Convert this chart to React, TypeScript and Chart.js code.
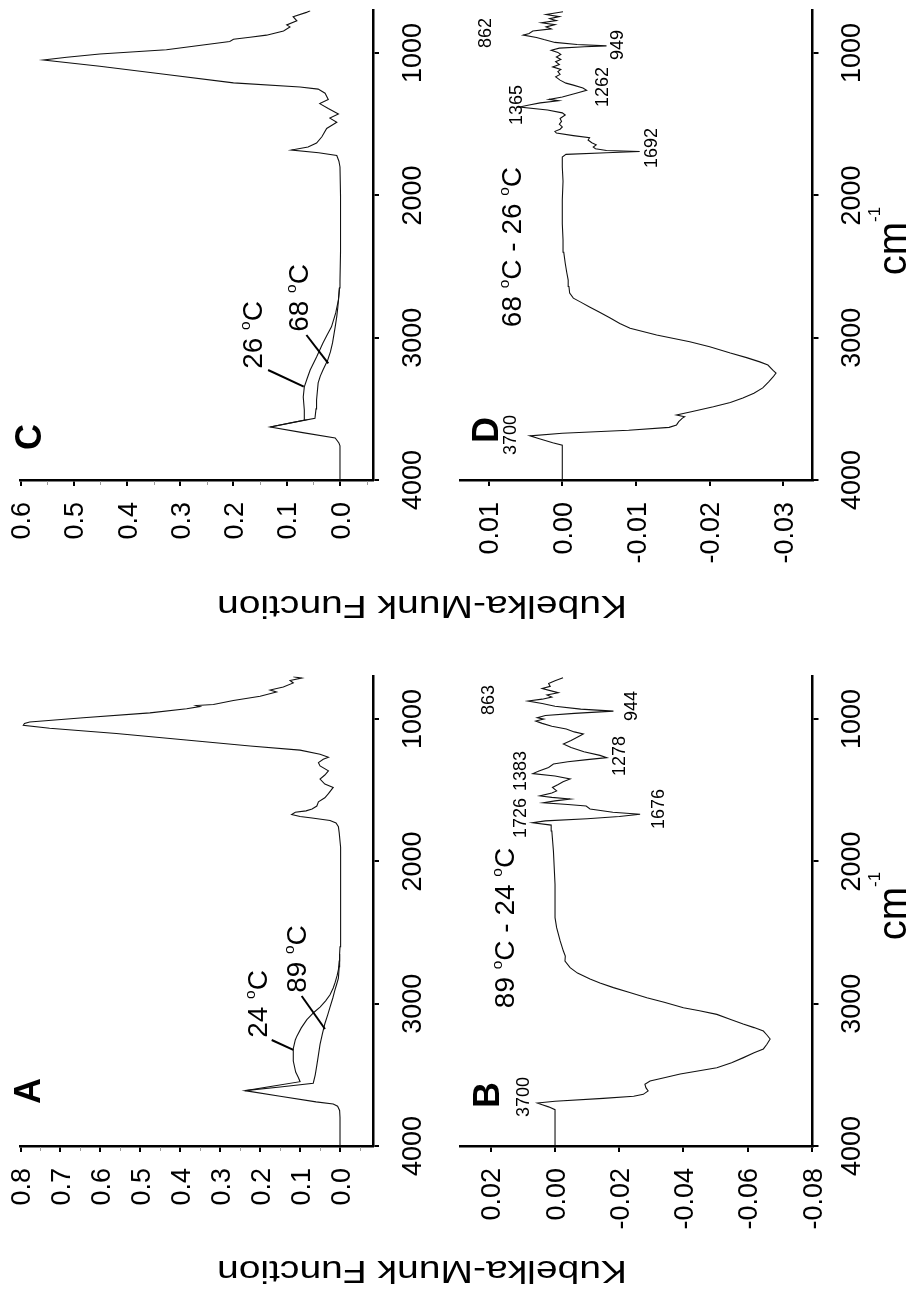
import React, { useEffect, useRef } from 'react';
import { Chart, registerables } from 'chart.js';

Chart.register(...registerables);

const FONT = '"Liberation Sans", Arial, Helvetica, sans-serif';

// ---------------- Axis ticks ----------------
const WN_TICKS = [1000, 2000, 3000, 4000];
const A_KM_TICKS = [0, 0.1, 0.2, 0.3, 0.4, 0.5, 0.6, 0.7, 0.8];
const A_KM_MINOR = [0.75, 0.65, 0.55, 0.45, 0.35, 0.25, 0.15, 0.05, -0.05];
const C_KM_TICKS = [0, 0.1, 0.2, 0.3, 0.4, 0.5, 0.6];
const C_KM_MINOR = [0.55, 0.45, 0.35, 0.25, 0.15, 0.05, -0.05];
const B_KM_TICKS = [-0.08, -0.06, -0.04, -0.02, 0, 0.02];
const D_KM_TICKS = [-0.03, -0.02, -0.01, 0, 0.01];

// ---------------- Panel A (24 °C / 89 °C) ----------------
const A_WN_24 = [4000, 3900, 3800, 3750, 3720, 3705, 3690, 3650, 3611, 3580, 3548, 3520, 3480, 3403, 3315, 3255, 3228, 3170, 3112, 3060, 3024, 2980, 2937, 2890, 2849, 2800, 2760, 2700, 2650];
const A_KM_24 = [0, 0, 0, 0.001, 0.006, 0.017, 0.06, 0.15, 0.238, 0.17, 0.1, 0.104, 0.111, 0.117, 0.117, 0.112, 0.108, 0.097, 0.083, 0.065, 0.05, 0.036, 0.025, 0.017, 0.012, 0.007, 0.004, 0.002, 0.001];
const A_WN_89 = [3611, 3585, 3559, 3500, 3432, 3360, 3286, 3210, 3141, 3080, 3024, 2960, 2907, 2860, 2820, 2740, 2650];
const A_KM_89 = [0.238, 0.15, 0.067, 0.062, 0.058, 0.054, 0.05, 0.044, 0.038, 0.031, 0.025, 0.018, 0.013, 0.008, 0.004, 0.002, 0.001];
const A_WN_COMMON = [2600, 2400, 2200, 2000, 1900, 1800, 1757, 1730, 1713, 1695, 1684, 1670, 1655, 1645, 1632, 1611, 1582, 1553, 1524, 1480, 1457, 1422, 1393, 1364, 1329, 1306, 1282, 1268, 1247, 1218, 1189, 1145, 1101, 1064, 1043, 1030, 1020, 991, 956, 927, 912, 905, 898, 869, 840, 810, 796, 775, 746, 729, 712, 703];
const A_KM_COMMON = [0, -0.001, -0.002, -0.002, -0.001, 0.002, 0.004, 0.01, 0.025, 0.07, 0.1, 0.121, 0.112, 0.085, 0.07, 0.058, 0.054, 0.038, 0.029, 0.017, 0.038, 0.05, 0.038, 0.029, 0.05, 0.054, 0.042, 0.029, 0.05, 0.1, 0.225, 0.392, 0.56, 0.727, 0.793, 0.79, 0.777, 0.643, 0.476, 0.384, 0.351, 0.36, 0.317, 0.267, 0.2, 0.159, 0.175, 0.142, 0.117, 0.125, 0.096, 0.117];

// ---------------- Panel C (26 °C / 68 °C) ----------------
const C_WN_26 = [4000, 3900, 3800, 3760, 3740, 3705, 3667, 3628, 3603, 3578, 3508, 3417, 3346, 3290, 3227, 3135, 3037, 2980, 2924, 2826, 2735, 2650];
const C_KM_26 = [0, 0, 0, 0, 0.002, 0.009, 0.07, 0.131, 0.098, 0.066, 0.067, 0.069, 0.067, 0.062, 0.056, 0.044, 0.032, 0.024, 0.016, 0.008, 0.003, 0.001];
const C_WN_68 = [3628, 3597, 3566, 3500, 3438, 3318, 3270, 3227, 3157, 3100, 3037, 2924, 2850, 2784, 2700, 2650];
const C_KM_68 = [0.131, 0.09, 0.047, 0.045, 0.044, 0.041, 0.037, 0.032, 0.023, 0.018, 0.014, 0.009, 0.006, 0.004, 0.002, 0.001];
const C_WN_COMMON = [2600, 2400, 2000, 1800, 1760, 1720, 1700, 1681, 1660, 1632, 1588, 1530, 1486, 1457, 1428, 1390, 1355, 1326, 1282, 1253, 1238, 1209, 1151, 1093, 1049, 1029, 1006, 977, 919, 903, 889, 874, 845, 816, 802, 773, 744, 714, 702];
const C_KM_COMMON = [0, -0.001, -0.001, 0, 0.002, 0.006, 0.04, 0.091, 0.06, 0.044, 0.034, 0.025, 0.006, 0.019, 0.003, 0.022, 0.038, 0.022, 0.028, 0.041, 0.075, 0.2, 0.326, 0.451, 0.557, 0.513, 0.451, 0.326, 0.207, 0.2, 0.169, 0.138, 0.106, 0.094, 0.1, 0.081, 0.088, 0.063, 0.056];

// ---------------- Panel B (89 °C - 24 °C) ----------------
const B_WN = [4000, 3850, 3745, 3725, 3710, 3698, 3685, 3665, 3650, 3637, 3613, 3590, 3566, 3543, 3520, 3494, 3450, 3415, 3379, 3345, 3318, 3285, 3248, 3220, 3192, 3168, 3143, 3110, 3075, 3050, 3028, 2990, 2958, 2920, 2887, 2855, 2826, 2785, 2747, 2700, 2665, 2630, 2559, 2466, 2395, 2160, 1927, 1786, 1745, 1728, 1715, 1700, 1685, 1669, 1655, 1632, 1611, 1600, 1588, 1575, 1562, 1550, 1540, 1520, 1505, 1480, 1460, 1440, 1421, 1400, 1383, 1365, 1340, 1316, 1300, 1285, 1271, 1255, 1230, 1200, 1175, 1150, 1120, 1105, 1090, 1070, 1050, 1030, 1014, 1000, 990, 975, 960, 944, 930, 910, 890, 873, 860, 845, 830, 815, 800, 785, 770, 750, 730, 709];
const B_KM = [0, 0, 0, 0.002, 0.004, 0.0055, 0, -0.015, -0.0245, -0.0275, -0.029, -0.0283, -0.028, -0.0296, -0.034, -0.039, -0.0504, -0.055, -0.0587, -0.062, -0.0649, -0.066, -0.067, -0.066, -0.0649, -0.062, -0.0586, -0.0545, -0.0504, -0.045, -0.04, -0.034, -0.0286, -0.023, -0.0182, -0.014, -0.0109, -0.007, -0.0047, -0.0031, -0.0032, -0.0026, -0.0016, -0.0005, 0, 0, 0.0005, 0.001, 0.0012, 0.007, 0.003, -0.01, -0.02, -0.0265, -0.018, -0.0109, -0.0097, -0.004, 0.0036, 0, -0.0047, 0.001, 0.0047, 0.001, -0.0005, 0.0008, -0.001, -0.0025, -0.0047, 0, 0.0069, 0.005, 0.002, 0.0005, -0.004, -0.01, -0.0161, -0.014, -0.009, -0.005, -0.0026, -0.005, -0.0075, -0.0088, -0.006, -0.0035, 0.001, 0.004, 0.006, 0.0035, 0.0055, 0.003, -0.006, -0.0182, -0.008, 0, 0.004, 0.0084, 0.004, 0.001, 0.0025, -0.001, 0.0015, 0.004, 0.0015, 0.002, 0, -0.0025];
const B_PEAKS = ['3700', '1726', '1676', '1383', '1278', '944', '863'];

// ---------------- Panel D (68 °C - 26 °C) ----------------
const D_WN = [4000, 3900, 3800, 3755, 3738, 3712, 3690, 3672, 3650, 3630, 3613, 3590, 3565, 3555, 3543, 3520, 3485, 3455, 3424, 3390, 3353, 3310, 3276, 3248, 3230, 3192, 3170, 3140, 3108, 3063, 3028, 2981, 2934, 2900, 2862, 2820, 2784, 2750, 2722, 2687, 2640, 2595, 2540, 2477, 2400, 2313, 2200, 2032, 1900, 1800, 1730, 1712, 1700, 1692, 1685, 1672, 1660, 1645, 1630, 1611, 1595, 1580, 1562, 1550, 1535, 1519, 1500, 1480, 1460, 1435, 1420, 1400, 1379, 1365, 1350, 1335, 1325, 1309, 1295, 1280, 1262, 1245, 1225, 1211, 1190, 1167, 1150, 1130, 1115, 1097, 1080, 1060, 1045, 1027, 1010, 995, 980, 965, 955, 949, 940, 925, 905, 890, 874, 862, 845, 830, 816, 800, 787, 772, 758, 744, 729, 709];
const D_KM = [0, 0, 0, 0, 0.0013, 0.003, 0.0044, 0, -0.009, -0.0145, -0.0155, -0.0158, -0.0163, -0.0166, -0.0155, -0.0175, -0.0205, -0.0228, -0.0245, -0.026, -0.0272, -0.028, -0.0286, -0.029, -0.0286, -0.0279, -0.0268, -0.025, -0.0228, -0.02, -0.0173, -0.0128, -0.0092, -0.0078, -0.0065, -0.005, -0.0037, -0.0025, -0.0015, -0.001, -0.0009, -0.0008, -0.0006, -0.0004, -0.0002, -0.0001, 0, 0, -0.0001, 0, 0, -0.0005, -0.006, -0.0105, -0.006, -0.0045, -0.0042, -0.0046, -0.004, -0.0035, -0.0037, -0.0015, 0.0008, 0.001, 0.0003, 0, 0.0004, 0.0001, 0.0003, -0.0004, 0, 0.002, 0.0058, 0.0045, 0.003, 0.0005, 0.0018, 0, -0.001, -0.002, -0.0033, -0.0028, -0.0015, -0.0005, 0.0003, 0.0009, 0.0003, 0.0006, 0.0002, 0.0013, 0.0004, 0.0009, 0.0002, 0.0008, 0.0002, 0.0006, 0.0015, 0.0004, -0.003, -0.006, -0.002, 0.001, 0.0025, 0.0035, 0.0053, 0.0045, 0.004, 0.0015, 0.0022, 0.001, 0.0028, 0.0008, 0.0017, 0.0004, 0.0022, -0.0001];
const D_PEAKS = ['3700', '1692', '1365', '1262', '949', '862'];

const TITLE = 'Kubelka-Munk Function';

// ---------------- Layout (pixels / label placement) ----------------
const PANELS: any[] = [
  {
    id: 'C',
    area: { left: 20.5, right: 373, top: 10.4, bottom: 480 },
    km: [-0.062, 0.6], ticks: C_KM_TICKS, minor: C_KM_MINOR, dec: 1,
    series: [
      { wn: C_WN_26.concat(C_WN_COMMON), km: C_KM_26.concat(C_KM_COMMON) },
      { wn: C_WN_68, km: C_KM_68 },
    ],
    notes: [
      { t: '26 °C', wn: 2981, km: 0.1654, s: 28 },
      { t: '68 °C', wn: 2721, km: 0.079, s: 28 },
    ],
    leaders: [
      [[3227, 0.135], [3344, 0.068]],
      [[2981, 0.063], [3180, 0.022]],
    ],
    letter: { dx: 8, dy: -43 },
    title: { x: 422, y: 607 },
  },
  {
    id: 'D',
    area: { left: 460, right: 812.5, top: 10.4, bottom: 480 },
    km: [-0.03395, 0.01388], ticks: D_KM_TICKS, minor: [], dec: 2,
    series: [{ wn: D_WN, km: D_KM }],
    notes: [
      { t: '68 °C - 26 °C', wn: 2363, km: 0.00696, s: 28 },
      { t: D_PEAKS[0], wn: 3684, km: 0.0071, s: 18 },
      { t: D_PEAKS[1], wn: 1667, km: -0.012, s: 18 },
      { t: D_PEAKS[2], wn: 1365, km: 0.0063, s: 18 },
      { t: D_PEAKS[3], wn: 1238, km: -0.0053, s: 18 },
      { t: D_PEAKS[4], wn: 943, km: -0.0074, s: 18 },
      { t: D_PEAKS[5], wn: 859, km: 0.0106, s: 18 },
    ],
    leaders: [],
    letter: { dx: 25, dy: -50 },
    unit: { x: 892, y: 241 },
  },
  {
    id: 'A',
    area: { left: 20.5, right: 373, top: 676.4, bottom: 1146 },
    km: [-0.0826, 0.8], ticks: A_KM_TICKS, minor: A_KM_MINOR, dec: 1,
    series: [
      { wn: A_WN_24.concat(A_WN_COMMON), km: A_KM_24.concat(A_KM_COMMON) },
      { wn: A_WN_89, km: A_KM_89 },
    ],
    notes: [
      { t: '24 °C', wn: 3002, km: 0.208, s: 28 },
      { t: '89 °C', wn: 2686, km: 0.11, s: 28 },
    ],
    leaders: [
      [[3255, 0.171], [3325, 0.117]],
      [[2946, 0.096], [3178, 0.0376]],
    ],
    letter: { dx: 7, dy: -55 },
    title: { x: 422, y: 1272 },
  },
  {
    id: 'B',
    area: { left: 460, right: 812.5, top: 676.4, bottom: 1146 },
    km: [-0.0802, 0.0296], ticks: B_KM_TICKS, minor: [], dec: 2,
    series: [{ wn: B_WN, km: B_KM }],
    notes: [
      { t: '89 °C - 24 °C', wn: 2468, km: 0.0159, s: 28 },
      { t: B_PEAKS[0], wn: 3656, km: 0.01, s: 18 },
      { t: B_PEAKS[1], wn: 1695, km: 0.0109, s: 18 },
      { t: B_PEAKS[2], wn: 1632, km: -0.0318, s: 18 },
      { t: B_PEAKS[3], wn: 1365, km: 0.0109, s: 18 },
      { t: B_PEAKS[4], wn: 1259, km: -0.0199, s: 18 },
      { t: B_PEAKS[5], wn: 908, km: -0.0234, s: 18 },
      { t: B_PEAKS[6], wn: 866, km: 0.0209, s: 18 },
    ],
    leaders: [],
    letter: { dx: 26, dy: -51 },
    unit: { x: 892, y: 906 },
  },
];

function drawRich(ctx: any, text: string, cx: number, cy: number, size: number, rot: number, o: any = {}) {
  const parts: any[] = [];
  let buf = '';
  for (const ch of text) {
    if (ch === '°') {
      if (buf) parts.push({ t: buf, s: size, r: 0 });
      buf = '';
      parts.push({ t: 'o', s: size * 0.55, r: size * 0.43 });
    } else buf += ch;
  }
  if (buf) parts.push({ t: buf, s: size, r: 0 });
  if (o.sup) parts.push({ t: o.sup.t, s: o.sup.s, r: o.sup.r });
  const weight = o.weight || 'normal';
  ctx.save();
  let total = 0;
  for (const p of parts) {
    ctx.font = `${weight} ${p.s}px ${FONT}`;
    p.w = ctx.measureText(p.t).width;
    total += p.w;
  }
  ctx.translate(cx, cy);
  ctx.rotate(rot);
  if (o.fit) ctx.scale(o.fit / total, 1);
  const align = o.align || 'center';
  let x = align === 'center' ? -total / 2 : align === 'right' ? -total : 0;
  const base = size * 0.358;
  ctx.fillStyle = '#000';
  ctx.textAlign = 'left';
  ctx.textBaseline = 'alphabetic';
  for (const p of parts) {
    ctx.font = `${weight} ${p.s}px ${FONT}`;
    ctx.fillText(p.t, x, base - p.r);
    x += p.w;
  }
  ctx.restore();
}

const ROT = -Math.PI / 2;

function makeChart(canvas: HTMLCanvasElement, p: any) {
  const W = 907, H = 1300, AX = 8;
  const datasets = p.series.map((s: any) => ({
    data: s.wn.map((w: number, i: number) => ({ x: s.km[i], y: w })),
    borderColor: '#111',
    borderWidth: 1.1,
    pointRadius: 0,
    fill: false,
    tension: 0,
  }));

  const overlay = {
    id: 'overlay' + p.id,
    afterDraw(chart: any) {
      const ctx = chart.ctx;
      const xs = chart.scales.x;
      const ys = chart.scales.y;
      const ca = chart.chartArea;
      // minor ticks
      ctx.save();
      ctx.strokeStyle = '#9a9a9a';
      ctx.lineWidth = 1;
      for (const v of p.minor) {
        const x = Math.round(xs.getPixelForValue(v)) + 0.5;
        ctx.beginPath();
        ctx.moveTo(x, ca.bottom + 1);
        ctx.lineTo(x, ca.bottom + 5);
        ctx.stroke();
      }
      ctx.restore();
      // KM tick labels
      for (const v of p.ticks) {
        const x = xs.getPixelForValue(v);
        drawRich(ctx, v.toFixed(p.dec), x, ca.bottom + 22, 27, ROT, { align: 'right' });
      }
      // wavenumber tick labels
      for (const v of WN_TICKS) {
        const y = ys.getPixelForValue(v);
        drawRich(ctx, String(v), ca.right + 38, y, 27, ROT);
      }
      // leader lines
      ctx.save();
      ctx.strokeStyle = '#000';
      ctx.lineWidth = 2;
      for (const l of p.leaders) {
        ctx.beginPath();
        ctx.moveTo(xs.getPixelForValue(l[0][1]), ys.getPixelForValue(l[0][0]));
        ctx.lineTo(xs.getPixelForValue(l[1][1]), ys.getPixelForValue(l[1][0]));
        ctx.stroke();
      }
      ctx.restore();
      // annotations
      for (const n of p.notes) {
        drawRich(ctx, n.t, xs.getPixelForValue(n.km), ys.getPixelForValue(n.wn), n.s, ROT);
      }
      // panel letter
      drawRich(ctx, p.id, ca.left + p.letter.dx, ca.bottom + p.letter.dy, 36, ROT, { weight: 'bold' });
      // axis title (upside down)
      if (p.title) drawRich(ctx, TITLE, p.title.x, p.title.y, 32, Math.PI, { fit: 410 });
      // unit
      if (p.unit) drawRich(ctx, 'cm', p.unit.x, p.unit.y, 40, ROT, { sup: { t: '-1', s: 17, r: 26 } });
    },
  };

  const gridCfg = {
    display: true,
    drawOnChartArea: false,
    drawTicks: true,
    tickLength: 6,
    tickWidth: 2,
    tickColor: '#000',
    color: '#000',
    lineWidth: 2,
  };

  return new Chart(canvas, {
    type: 'line',
    data: { datasets },
    options: {
      responsive: false,
      animation: false,
      devicePixelRatio: 1,
      events: [],
      layout: {
        padding: {
          left: p.area.left,
          top: p.area.top,
          right: W - p.area.right - AX,
          bottom: H - p.area.bottom - AX,
        },
      },
      plugins: { legend: { display: false }, tooltip: { enabled: false } },
      scales: {
        x: {
          type: 'linear',
          position: 'bottom',
          min: p.km[0],
          max: p.km[1],
          reverse: true,
          afterBuildTicks: (s: any) => { s.ticks = p.ticks.map((v: number) => ({ value: v })); },
          afterFit: (s: any) => { s.height = AX; },
          ticks: { display: false },
          grid: gridCfg,
          border: { display: true, color: '#000', width: 2.5 },
        },
        y: {
          type: 'linear',
          position: 'right',
          min: 700,
          max: 4000,
          reverse: true,
          afterBuildTicks: (s: any) => { s.ticks = WN_TICKS.map((v) => ({ value: v })); },
          afterFit: (s: any) => { s.width = AX; },
          ticks: { display: false },
          grid: gridCfg,
          border: { display: true, color: '#000', width: 2.5 },
        },
      },
    } as any,
    plugins: [overlay],
  } as any);
}

export default function App() {
  const refs = useRef<(HTMLCanvasElement | null)[]>([]);
  useEffect(() => {
    document.body.style.margin = '0';
    const charts = PANELS.map((p, i) => makeChart(refs.current[i] as HTMLCanvasElement, p));
    return () => charts.forEach((c) => c.destroy());
  }, []);
  return (
    <div style={{ position: 'relative', width: 907, height: 1300, background: '#fff' }}>
      {PANELS.map((p, i) => (
        <canvas
          key={p.id}
          ref={(el) => { refs.current[i] = el; }}
          width={907}
          height={1300}
          style={{ position: 'absolute', left: 0, top: 0 }}
        />
      ))}
    </div>
  );
}
